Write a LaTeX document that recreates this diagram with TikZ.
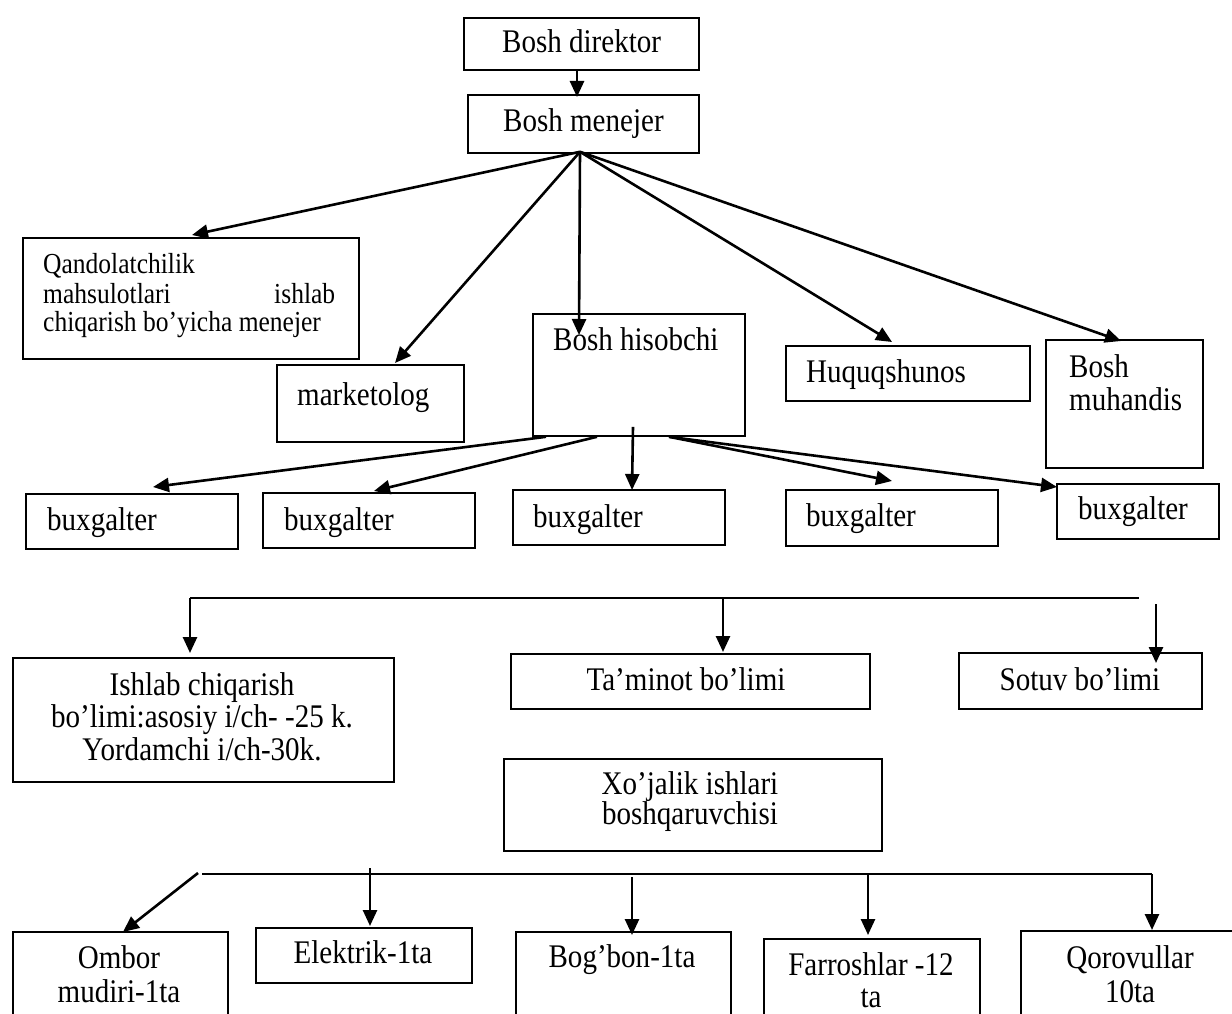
\documentclass[tikz,border=0pt]{standalone}
\usepackage{fontspec}
\setmainfont{Liberation Serif}[FakeStretch=0.88]
\usetikzlibrary{arrows.meta,calc}
\begin{document}
\begin{tikzpicture}[x=1pt,y=-1pt,
  box/.style={draw,line width=1.8pt,anchor=north west,inner sep=0pt},
  lbl/.style={inner sep=0pt,font=\fontsize{33}{36}\selectfont},
  lbls/.style={inner sep=0pt,font=\fontsize{29}{32}\selectfont},
  arr/.style={line width=2.6pt,-{Triangle[length=16pt,width=14pt]}},
  bus/.style={line width=2.6pt},
  thinbus/.style={line width=1.3pt}]
\useasboundingbox (0,0) rectangle (1232,1014);
\clip (0,0) rectangle (1232,1014);

% ---------- boxes ----------
\node[box,minimum width=235pt,minimum height=52pt]  (dir)  at (463,17)  {};
\node[box,minimum width=231pt,minimum height=58pt]  (men)  at (467,94)  {};
\node[box,minimum width=336pt,minimum height=121pt] (qand) at (22,237)  {};
\node[box,minimum width=187pt,minimum height=77pt]  (mkt)  at (276,364) {};
\node[box,minimum width=212pt,minimum height=122pt] (his)  at (532,313) {};
\node[box,minimum width=244pt,minimum height=55pt]  (huq)  at (785,345) {};
\node[box,minimum width=157pt,minimum height=128pt] (muh)  at (1045,339) {};
\node[box,minimum width=212pt,minimum height=55pt]  (bxa)  at (25,493)  {};
\node[box,minimum width=212pt,minimum height=55pt]  (bxb)  at (262,492) {};
\node[box,minimum width=212pt,minimum height=55pt]  (bxc)  at (512,489) {};
\node[box,minimum width=212pt,minimum height=56pt]  (bxd)  at (785,489) {};
\node[box,minimum width=162pt,minimum height=55pt]  (bxe)  at (1056,483) {};
\node[box,minimum width=381pt,minimum height=124pt] (ish)  at (12,657)  {};
\node[box,minimum width=359pt,minimum height=55pt]  (tam)  at (510,653) {};
\node[box,minimum width=243pt,minimum height=56pt]  (sot)  at (958,652) {};
\node[box,minimum width=378pt,minimum height=92pt]  (xoj)  at (503,758) {};
\node[box,minimum width=215pt,minimum height=120pt] (omb)  at (12,931)  {};
\node[box,minimum width=216pt,minimum height=55pt]  (ele)  at (255,927) {};
\node[box,minimum width=215pt,minimum height=120pt] (bog)  at (515,931) {};
\node[box,minimum width=216pt,minimum height=120pt] (far)  at (763,938) {};
\node[box,minimum width=250pt,minimum height=120pt] (qor)  at (1020,930) {};

% ---------- labels ----------
\node[lbl,anchor=base west] (tdir) at (502,53)  {Bosh direktor};
\node[lbl,anchor=base west] (tmen) at (503,132) {Bosh menejer};
\node[lbls,anchor=base west] (tqa) at (43,273) {Qandolatchilik};
\node[lbls,anchor=base west] (tqb) at (43,303) {\makebox[292pt][l]{mahsulotlari\hfill ishlab}};
\node[lbls,anchor=base west] (tqc) at (43,331) {chiqarish bo’yicha menejer};
\node[lbl,anchor=base west] (tmkt) at (297,405) {marketolog};
\node[lbl,anchor=base west] (this) at (553,350) {Bosh hisobchi};
\node[lbl,anchor=base west] (thuq) at (806,382) {Huquqshunos};
\node[lbl,anchor=base west] (tmua) at (1069,377) {Bosh};
\node[lbl,anchor=base west] (tmub) at (1069,410) {muhandis};
\node[lbl,anchor=base west] (tbxa) at (47,530)  {buxgalter};
\node[lbl,anchor=base west] (tbxb) at (284,530) {buxgalter};
\node[lbl,anchor=base west] (tbxc) at (533,527) {buxgalter};
\node[lbl,anchor=base west] (tbxd) at (806,526) {buxgalter};
\node[lbl,anchor=base west] (tbxe) at (1078,519) {buxgalter};
\node[lbl,anchor=base] (tisa) at (202,695) {Ishlab chiqarish};
\node[lbl,anchor=base] (tisb) at (202,727) {bo’limi:asosiy i/ch- -25 k.};
\node[lbl,anchor=base] (tisc) at (202,760) {Yordamchi i/ch-30k.};
\node[lbl,anchor=base] (ttam) at (686,690) {Ta’minot bo’limi};
\node[lbl,anchor=base] (tsot) at (1080,690) {Sotuv bo’limi};
\node[lbl,anchor=base] (txoa) at (690,794) {Xo’jalik ishlari};
\node[lbl,anchor=base] (txob) at (690,824) {boshqaruvchisi};
\node[lbl,anchor=base] (toma) at (119,968) {Ombor};
\node[lbl,anchor=base] (tomb) at (119,1002) {mudiri-1ta};
\node[lbl,anchor=base] (tele) at (363,963) {Elektrik-1ta};
\node[lbl,anchor=base] (tbog) at (622,967) {Bog’bon-1ta};
\node[lbl,anchor=base] (tfaa) at (871,975) {Farroshlar -12};
\node[lbl,anchor=base] (tfab) at (871,1007) {ta};
\node[lbl,anchor=base] (tqoa) at (1130,968) {Qorovullar};
\node[lbl,anchor=base] (tqob) at (1130,1002) {10ta};

% ---------- top level ----------
\draw[arr] ($(dir.south west)+(114,0)$) -- ($(men.north west)+(110,3)$);
\coordinate (hub) at ($(men.south west)+(113,-2)$);
\draw[arr] (hub) -- ($(qand.north west)+(170,-2)$);
\draw[arr] (hub) -- ($(mkt.north west)+(119,-1)$);
\draw[arr] (hub) -- ($(his.north west)+(47,22)$);
\draw[arr] (hub) -- ($(huq.north west)+(107,-3)$);
\draw[arr] (hub) -- ($(muh.north west)+(76,2)$);

% ---------- accountants ----------
\draw[arr] ($(his.south west)+(14,0)$)  -- ($(bxa.north west)+(128,-6)$);
\draw[arr] ($(his.south west)+(65,0)$)  -- ($(bxb.north west)+(112,-1)$);
\draw[arr] ($(his.south west)+(101,-10)$) -- ($(bxc.north west)+(120,1)$);
\draw[arr] ($(his.south west)+(137,0)$) -- ($(bxd.north west)+(107,-8)$);
\draw[arr] ($(his.south west)+(137,0)$) -- ($(bxe.north west)+(1,4)$);

% ---------- departments ----------
\coordinate (busL) at ($(ish.north west)+(178,-59)$);
\coordinate (busR) at (1139,598);
\coordinate (busM) at ($(tam.north west)+(213,-55)$);
\draw[bus] (busL) -- (busR);
\draw[arr] (busL) -- ($(ish.north west)+(178,-4)$);
\draw[arr] (busM) -- ($(tam.north west)+(213,-1)$);
\coordinate (sotTop) at ($(sot.north west)+(198,-48)$);
\draw[arr] (sotTop) -- ($(sot.north west)+(198,11)$);

% ---------- household staff ----------
\coordinate (hhL) at ($(omb.north west)+(190,-57)$);
\coordinate (hhR) at ($(qor.north west)+(132,-56)$);
\draw[thinbus] (hhL) -- (hhR);
\draw[arr] ($(hhL)+(-4,-1)$) -- ($(omb.north west)+(111,1)$);
\draw[arr] ($(ele.north west)+(115,-59)$) -- ($(ele.north west)+(115,-1)$);
\draw[arr] ($(bog.north west)+(117,-54)$) -- ($(bog.north west)+(117,4)$);
\draw[arr] ($(far.north west)+(105,-64)$) -- ($(far.north west)+(105,-3)$);
\draw[arr] (hhR) -- ($(qor.north west)+(132,0)$);
\end{tikzpicture}
\end{document}
